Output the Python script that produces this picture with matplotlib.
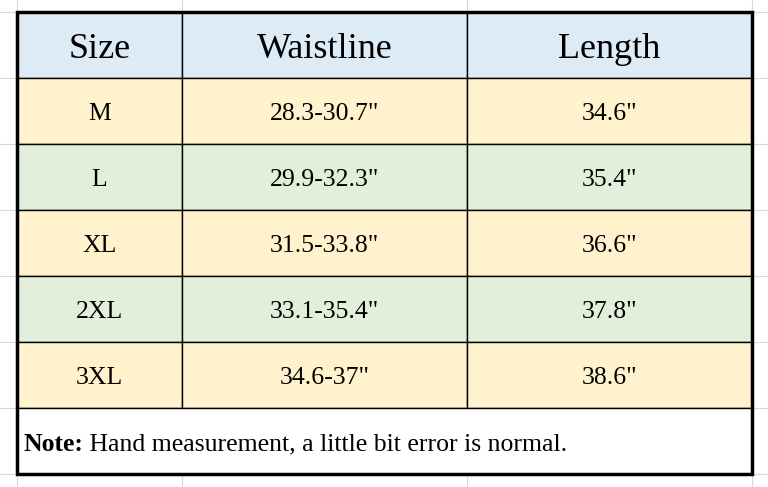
import matplotlib
matplotlib.use("Agg")
import matplotlib.pyplot as plt
from matplotlib.patches import Rectangle

headers = ["Size", "Waistline", "Length"]
sizes = ["M", "L", "XL", "2XL", "3XL"]
waistline = ['28.3-30.7"', '29.9-32.3"', '31.5-33.8"', '33.1-35.4"', '34.6-37"']
length = ['34.6"', '35.4"', '36.6"', '37.8"', '38.6"']
note_bold = "Note:"
note_text = " Hand measurement, a little bit error is normal."

W, H = 768, 487
fig = plt.figure(figsize=(W / 100, H / 100), dpi=100)
ax = fig.add_axes([0, 0, 1, 1])
ax.set_xlim(0, W)
ax.set_ylim(H, 0)
ax.axis("off")

font = "Liberation Serif"
col_x = [17, 182, 467, 752]
row_y = [12, 78, 144, 210, 276, 342, 408, 474]
header_bg = "#DDEBF7"
row_bgs = ["#FFF2CC", "#E2EFDA"]
body_fs = 18.5

# spreadsheet gridlines in background
grid_c = "#D9D9D9"
for x in col_x:
    ax.plot([x, x], [0, H], color=grid_c, lw=0.8, zorder=0)
for y in row_y:
    ax.plot([0, W], [y, y], color=grid_c, lw=0.8, zorder=0)

# header
for j, htxt in enumerate(headers):
    x0, x1 = col_x[j], col_x[j + 1]
    ax.add_patch(Rectangle((x0, row_y[0]), x1 - x0, row_y[1] - row_y[0],
                           facecolor=header_bg, edgecolor="black", lw=1, zorder=1))
    ax.text((x0 + x1) / 2, (row_y[0] + row_y[1]) / 2 + 5, htxt, fontsize=26,
            family=font, ha="center", va="center", zorder=3)

rows = list(zip(sizes, waistline, length))
for i, row in enumerate(rows):
    y0, y1 = row_y[i + 1], row_y[i + 2]
    for j, val in enumerate(row):
        x0, x1 = col_x[j], col_x[j + 1]
        ax.add_patch(Rectangle((x0, y0), x1 - x0, y1 - y0,
                               facecolor=row_bgs[i % 2], edgecolor="black", lw=1, zorder=1))
        ax.text((x0 + x1) / 2, (y0 + y1) / 2 + 3.5, val, fontsize=body_fs,
                family=font, ha="center", va="center", zorder=3)

# note row
ax.add_patch(Rectangle((col_x[0], row_y[6]), col_x[-1] - col_x[0], row_y[7] - row_y[6],
                       facecolor="white", edgecolor="black", lw=1, zorder=1))
ny = (row_y[6] + row_y[7]) / 2 + 3.5
t = ax.text(23, ny, note_bold, fontsize=body_fs, family=font, weight="bold",
            ha="left", va="center", zorder=3)
fig.canvas.draw()
bb = t.get_window_extent()
inv = ax.transData.inverted()
xend = inv.transform((bb.x1, bb.y0))[0]
ax.text(xend, ny, note_text, fontsize=body_fs, family=font, ha="left", va="center", zorder=3)

# outer thick border
ax.add_patch(Rectangle((col_x[0], row_y[0]), col_x[-1] - col_x[0], row_y[-1] - row_y[0],
                       facecolor="none", edgecolor="black", lw=2.5, zorder=4))

fig.savefig("out.png", dpi=100)
